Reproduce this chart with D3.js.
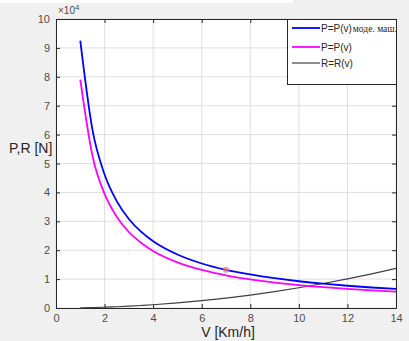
<!DOCTYPE html>
<html>
<head>
<meta charset="utf-8">
<script src="https://cdn.jsdelivr.net/npm/d3@7"></script>
<style>
  body { margin: 0; background: #f0f0f0; }
  svg { display: block; font-family: "Liberation Sans", Arial, sans-serif; }
</style>
</head>
<body>
<div id="chart"></div>
<script>
// speed, km/h
const speeds = [1, 1.5, 2, 2.5, 3, 3.5, 4, 5, 6, 7, 8, 9, 10, 11, 12, 13, 14];
// P=P(v) моде. маш., N
const pModel = [92500, 61700, 46200, 37000, 30800, 26400, 23100, 18500, 15400, 13200, 11600, 10300, 9250, 8400, 7700, 7100, 6600];
// P=P(v), N
const pReal = [79000, 52700, 39500, 31600, 26300, 22600, 19750, 15800, 13200, 11300, 9900, 8800, 7900, 7200, 6600, 6100, 5650];
// R=R(v), N
const resist = [70, 160, 280, 440, 630, 860, 1120, 1750, 2520, 3430, 4480, 5670, 7000, 8470, 10080, 11830, 13720];
const marker = { v: 7, p: 13200 };

const xTicks = [0, 2, 4, 6, 8, 10, 12, 14];
const yTicks = [0, 1, 2, 3, 4, 5, 6, 7, 8, 9, 10];

const W = 409, H = 341;
const margin = { left: 56, right: 13, top: 19, bottom: 33 };

const svg = d3.select("#chart").append("svg")
    .attr("width", W)
    .attr("height", H);

svg.append("rect").attr("width", W).attr("height", H).attr("fill", "#f0f0f0");
svg.append("rect").attr("width", 293).attr("height", 3).attr("fill", "#ffffff");

const x = d3.scaleLinear().domain([0, 14]).range([margin.left, W - margin.right]);
const y = d3.scaleLinear().domain([0, 100000]).range([H - margin.bottom, margin.top]);

const plot = svg.append("g");
plot.append("rect")
    .attr("x", x(0)).attr("y", y(100000))
    .attr("width", x(14) - x(0)).attr("height", y(0) - y(100000))
    .attr("fill", "#ffffff");

// grid
plot.selectAll("line.gx").data(xTicks).enter().append("line")
    .attr("class", "gx")
    .attr("x1", d => x(d)).attr("x2", d => x(d))
    .attr("y1", y(0)).attr("y2", y(100000))
    .attr("stroke", "#dedede").attr("stroke-width", 1);
plot.selectAll("line.gy").data(yTicks).enter().append("line")
    .attr("class", "gy")
    .attr("y1", d => y(d * 10000)).attr("y2", d => y(d * 10000))
    .attr("x1", x(0)).attr("x2", x(14))
    .attr("stroke", "#dedede").attr("stroke-width", 1);

// axes
const xAxis = d3.axisBottom(x).tickValues(xTicks).tickSize(-4).tickPadding(6).tickSizeOuter(0);
const yAxis = d3.axisLeft(y).tickValues(yTicks.map(d => d * 10000)).tickFormat(d => d / 10000)
    .tickSize(-4).tickPadding(6).tickSizeOuter(0);

const gx = svg.append("g").attr("transform", "translate(0," + y(0) + ")").call(xAxis);
const gy = svg.append("g").attr("transform", "translate(" + x(0) + ",0)").call(yAxis);
// top and right
const gxTop = svg.append("g").attr("transform", "translate(0," + y(100000) + ")")
    .call(d3.axisTop(x).tickValues(xTicks).tickSize(-4).tickFormat("").tickSizeOuter(0));
const gyRight = svg.append("g").attr("transform", "translate(" + x(14) + ",0)")
    .call(d3.axisRight(y).tickValues(yTicks.map(d => d * 10000)).tickSize(-4).tickFormat("").tickSizeOuter(0));

[gx, gy, gxTop, gyRight].forEach(g => {
    g.select(".domain").attr("stroke", "#262626").attr("stroke-width", 1);
    g.selectAll(".tick line").attr("stroke", "#262626");
    g.selectAll(".tick text").attr("fill", "#4d4d4d").style("font-size", "11px");
});

svg.append("text")
    .attr("x", x(0) + 2).attr("y", 14)
    .attr("fill", "#4d4d4d").style("font-size", "10px")
    .text("\u00d710")
    .append("tspan").attr("dy", -4).style("font-size", "8px").text("4");

// lines
const line = (vals) => d3.line()
    .x((d, i) => x(speeds[i]))
    .y(d => y(d))
    .curve(d3.curveMonotoneX)(vals);

svg.append("path").attr("d", line(resist)).attr("fill", "none").attr("stroke", "#404040").attr("stroke-width", 1.2);
svg.append("path").attr("d", line(pReal)).attr("fill", "none").attr("stroke", "#ff00ff").attr("stroke-width", 1.8);
svg.append("path").attr("d", line(pModel)).attr("fill", "none").attr("stroke", "#0000ff").attr("stroke-width", 1.8);

svg.append("circle")
    .attr("cx", x(marker.v)).attr("cy", y(marker.p)).attr("r", 3)
    .attr("fill", "#f07070").attr("opacity", 0.7);

// labels
svg.append("text")
    .attr("x", 9).attr("y", 153)
    .attr("fill", "#262626").style("font-size", "14px")
    .text("P,R [N]");
svg.append("text")
    .attr("x", 228).attr("y", 337).attr("text-anchor", "middle")
    .attr("fill", "#262626").style("font-size", "14px")
    .text("V [Km/h]");

// legend
const legendItems = [
    { name: "P=P(v)", extra: "моде. маш.", color: "#0000ff", y: 28 },
    { name: "P=P(v)", extra: "", color: "#ff00ff", y: 47 },
    { name: "R=R(v)", extra: "", color: "#404040", y: 63 }
];
svg.append("rect")
    .attr("x", 287.5).attr("y", 19.5).attr("width", 109).attr("height", 65)
    .attr("fill", "#ffffff").attr("stroke", "#262626").attr("stroke-width", 1);
const lg = svg.selectAll("g.leg").data(legendItems).enter().append("g").attr("class", "leg");
lg.append("line")
    .attr("x1", 292).attr("x2", 320)
    .attr("y1", d => d.y).attr("y2", d => d.y)
    .attr("stroke", d => d.color).attr("stroke-width", d => d.color === "#404040" ? 1.2 : 1.8);
const lt = lg.append("text")
    .attr("x", 321).attr("y", d => d.y + 3.5)
    .attr("fill", "#262626").style("font-size", "10px")
    .text(d => d.name);
lt.append("tspan")
    .attr("dx", 1)
    .style("font-family", "'Liberation Serif', 'Times New Roman', serif")
    .style("font-size", "9.5px")
    .text(d => d.extra);
</script>
</body>
</html>
